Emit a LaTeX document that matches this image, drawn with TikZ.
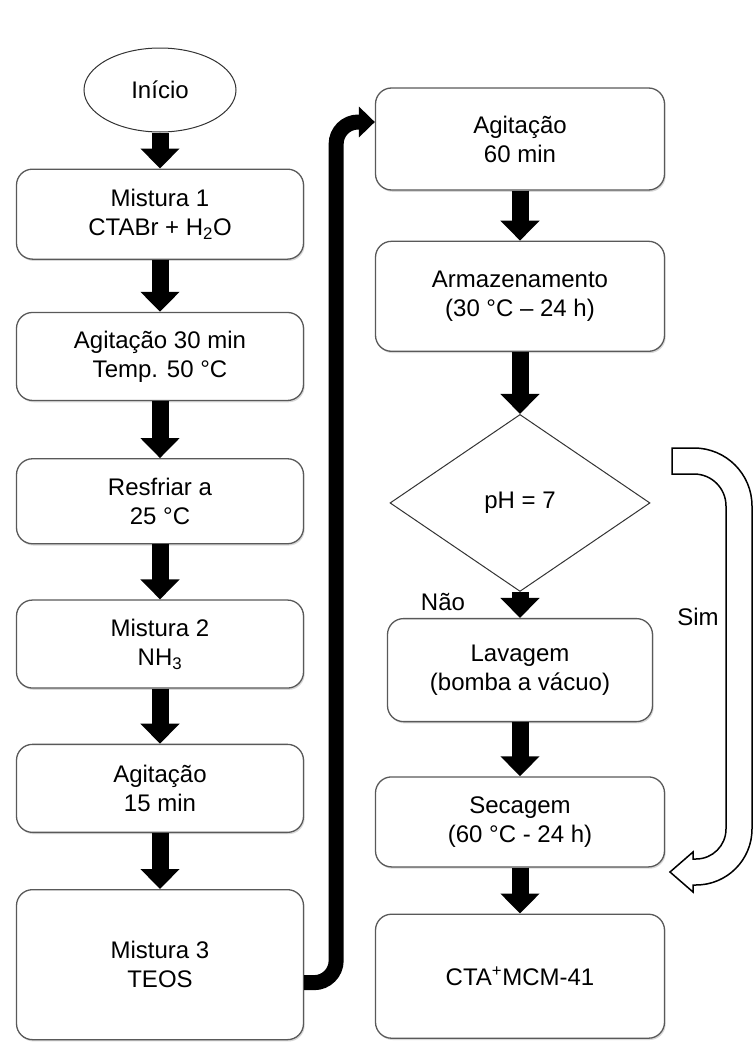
\documentclass[tikz,border=0pt]{standalone}
\usepackage{fontspec}
\setmainfont{Liberation Sans}
\usetikzlibrary{shapes.geometric, arrows.meta, positioning, shadows}

\begin{document}
\begin{tikzpicture}[
    x=1pt, y=-1pt,
    font=\fontsize{24}{29}\selectfont,
    etapa/.style={rectangle, rounded corners=16pt, draw=black!65, line width=1.3pt, fill=white, drop shadow={shadow xshift=1.2pt, shadow yshift=-1.8pt, fill=black!30}, align=center, inner sep=0pt},
    inicio/.style={ellipse, draw=black!80, line width=1pt, fill=white, minimum width=152pt, minimum height=84pt, inner sep=0pt},
    decisao/.style={diamond, draw=black!80, line width=1pt, fill=white, aspect=1.47, minimum width=260pt, minimum height=177pt, inner sep=0pt},
    seta/.style={line width=17pt, -{Triangle[length=20pt,width=38pt]}},
    setalonga/.style={line width=15pt, rounded corners=22pt, -{Triangle[length=16pt,width=30pt]}},
    setaoca/.style={draw=black, line width=1.5pt, fill=white}
]
\useasboundingbox (0,0) rectangle (753,1052);

% Nodes - left column
\node[inicio] (inicio) at (160,90) {Início};
\node[etapa, minimum width=287pt, minimum height=90pt, below=36pt of inicio] (mist1) {Mistura 1\\CTABr + H\textsubscript{2}O};
\node[etapa, minimum width=287pt, minimum height=88pt, below=52pt of mist1] (agit30) {Agitação 30 min\\Temp. 50 °C};
\node[etapa, minimum width=287pt, minimum height=85pt, below=57pt of agit30] (resfr) {Resfriar a\\25 °C};
\node[etapa, minimum width=287pt, minimum height=88pt, below=55pt of resfr] (mist2) {Mistura 2\\NH\textsubscript{3}};
\node[etapa, minimum width=287pt, minimum height=88pt, below=55pt of mist2] (agit15) {Agitação\\15 min};
\node[etapa, minimum width=287pt, minimum height=150pt, below=56pt of agit15] (mist3) {Mistura 3\\TEOS};

% Nodes - right column
\node[etapa, minimum width=289pt, minimum height=102pt] (agit60) at (520,139) {Agitação\\60 min};
\node[etapa, minimum width=289pt, minimum height=110pt, below=50pt of agit60] (armaz) {Armazenamento\\(30 °C – 24 h)};
\node[decisao, below=62pt of armaz] (ph) {pH = 7};
\node[etapa, minimum width=265pt, minimum height=103pt, below=26pt of ph] (lavag) {Lavagem\\(bomba a vácuo)};
\node[etapa, minimum width=289pt, minimum height=90pt, below=54pt of lavag] (secag) {Secagem\\(60 °C - 24 h)};
\node[etapa, minimum width=289pt, minimum height=124pt, below=46pt of secag] (produto) {CTA\textsuperscript{+}MCM-41};

\node (nao) at (443,602) {Não};
\node (sim) at (698,617) {Sim};

% Arrows
\draw[seta] (inicio) -- (mist1);
\draw[seta] (mist1) -- (agit30);
\draw[seta] (agit30) -- (resfr);
\draw[seta] (resfr) -- (mist2);
\draw[seta] (mist2) -- (agit15);
\draw[seta] (agit15) -- (mist3);

\draw[setalonga] ([yshift=-18pt]mist3.east) -- ++(32,0) |- ([yshift=17pt]agit60.west);

\draw[seta] (agit60) -- (armaz);
\draw[seta] (armaz) -- (ph);
\draw[seta] (ph) -- (lavag);
\draw[seta] (lavag) -- (secag);
\draw[seta] (secag) -- (produto);

% hollow arrow (Sim)
\draw[setaoca] (672,448) -- (694,448) arc[start angle=-90, end angle=0, radius=58]
    -- (752,829) arc[start angle=0, end angle=90, radius=56]
    -- (693,885) -- (693,892) -- (670,872) -- (693,852) -- (693,859) -- (696,859)
    arc[start angle=90, end angle=0, radius=30]
    -- (726,506) arc[start angle=0, end angle=-90, radius=32]
    -- (672,474) -- cycle;

\end{tikzpicture}
\end{document}
